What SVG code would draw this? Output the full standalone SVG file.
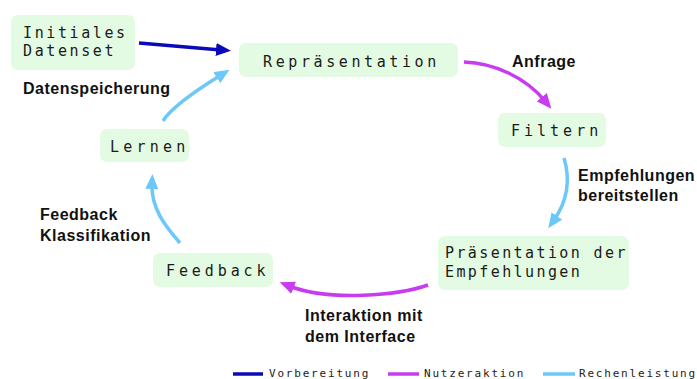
<svg xmlns="http://www.w3.org/2000/svg" width="697" height="379" viewBox="0 0 697 379">
<style>
.node rect{fill:#e4fbe3;stroke:none}
.node text{font-family:"DejaVu Sans Mono","Liberation Mono",monospace;font-size:15px;fill:#1a1a1a}
.lbl{font-family:"Liberation Sans",Arial,sans-serif;font-weight:bold;font-size:16px;letter-spacing:0.5px;fill:#111}
.c{fill:none;stroke-width:3.5;stroke-linecap:butt}
.prep{stroke:#0a0ab8}
.user{stroke:#c83cf0}
.comp{stroke:#6cc8fb}
.leg text{font-family:"DejaVu Sans Mono","Liberation Mono",monospace;font-size:11px;letter-spacing:1.8px;fill:#222}
.leg line{stroke-width:3.5}
</style>
<defs>
<marker id="aPrep" markerUnits="userSpaceOnUse" markerWidth="16" markerHeight="14" refX="5" refY="6.5" orient="auto"><path d="M0,0 L15,6.5 L0,13 z" fill="#0a0ab8"/></marker>
<marker id="aUser" markerUnits="userSpaceOnUse" markerWidth="16" markerHeight="14" refX="5" refY="6.5" orient="auto"><path d="M0,0 L15,6.5 L0,13 z" fill="#c83cf0"/></marker>
<marker id="aComp" markerUnits="userSpaceOnUse" markerWidth="16" markerHeight="14" refX="5" refY="6.5" orient="auto"><path d="M0,0 L15,6.5 L0,13 z" fill="#6cc8fb"/></marker>
</defs>

<g id="connectors">
<path class="c prep" d="M139,43 L221,50" marker-end="url(#aPrep)"/>
<path class="c comp" d="M163,121 C172,106 200,88 221,75" marker-end="url(#aComp)"/>
<path class="c user" d="M464,62 C495,63 526,78 545,101" marker-end="url(#aUser)"/>
<path class="c comp" d="M564,158 C570,178 568,200 554,220" marker-end="url(#aComp)"/>
<path class="c user" d="M428,285 C400,295 330,302 289,286" marker-end="url(#aUser)"/>
<path class="c comp" d="M180,243 C165,226 151,208 152,184" marker-end="url(#aComp)"/>
</g>

<g id="node-initiales" class="node">
<rect x="11" y="15" width="124" height="55" rx="7"/>
<text x="23" y="37.5" letter-spacing="2.6">Initiales</text>
<text x="23" y="55.5" letter-spacing="2.6">Datenset</text>
</g>
<g id="node-repraesentation" class="node">
<rect x="239" y="43" width="219" height="34" rx="7"/>
<text x="263" y="66.5" letter-spacing="3.6">Repräsentation</text>
</g>
<g id="node-filtern" class="node">
<rect x="498" y="113" width="108" height="34" rx="7"/>
<text x="511" y="135.5" letter-spacing="4">Filtern</text>
</g>
<g id="node-praesentation" class="node">
<rect x="438" y="236" width="191" height="54" rx="7"/>
<text x="445" y="257.5" letter-spacing="2.4">Präsentation der</text>
<text x="445" y="276.5" letter-spacing="2.4">Empfehlungen</text>
</g>
<g id="node-feedback" class="node">
<rect x="153" y="253" width="120" height="34" rx="7"/>
<text x="166" y="275.5" letter-spacing="3.9">Feedback</text>
</g>
<g id="node-lernen" class="node">
<rect x="100" y="129" width="89" height="33" rx="7"/>
<text x="110" y="151.5" letter-spacing="4.2">Lernen</text>
</g>

<g id="labels">
<text class="lbl" x="23" y="93.5">Datenspeicherung</text>
<text class="lbl" x="512" y="66.5">Anfrage</text>
<text class="lbl" x="578" y="181">Empfehlungen</text>
<text class="lbl" x="578" y="200.5">bereitstellen</text>
<text class="lbl" x="40" y="220">Feedback</text>
<text class="lbl" x="40" y="240.5">Klassifikation</text>
<text class="lbl" x="305" y="320.5">Interaktion mit</text>
<text class="lbl" x="305" y="341.5">dem Interface</text>
</g>

<g id="legend" class="leg">
<line x1="233" y1="374" x2="263" y2="374" stroke="#0a0ab8"/>
<text x="269" y="376.5">Vorbereitung</text>
<line x1="388" y1="374" x2="419" y2="374" stroke="#c83cf0"/>
<text x="424" y="376.5">Nutzeraktion</text>
<line x1="543" y1="374" x2="575" y2="374" stroke="#6cc8fb"/>
<text x="579" y="376.5" letter-spacing="1.5">Rechenleistung</text>
</g>
</svg>
